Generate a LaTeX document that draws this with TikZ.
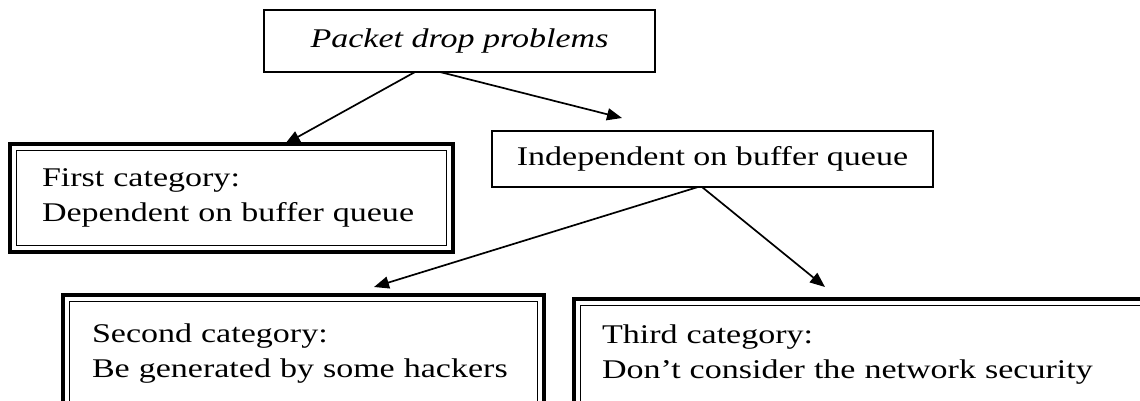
\documentclass[tikz,border=0pt]{standalone}
\usepackage{fontspec}
\setmainfont{Liberation Serif}[FakeStretch=1.26]
\usetikzlibrary{arrows.meta}
\tikzset{
    x=1pt, y=-1pt,
    every node/.style={font=\fontsize{27}{35}\selectfont, outer sep=0pt},
    plainbox/.style={draw, line width=1.7pt, anchor=north west},
    catbox/.style={draw, line width=3.2pt, anchor=north west, align=left},
    innerframe/.style={line width=1.7pt},
    link/.style={-{Triangle[length=15pt,width=12pt]}, line width=1.7pt},
}

\begin{document}
\begin{tikzpicture}
    \useasboundingbox (0,0) rectangle (1140,400);
    % root and middle boxes
    \node (problems) at (264,10) [plainbox, minimum width=391pt, minimum height=62pt,
        font=\fontsize{27}{35}\selectfont\itshape] {Packet drop problems};
    \node (indep) at (492,131) [plainbox, minimum width=441pt, minimum height=56pt]
        {Independent on buffer queue};
    % category boxes
    \node (first) at (10,144) [catbox, minimum height=108pt, inner xsep=32pt, text width=379pt]
        {First category:\\Dependent on buffer queue};
    \node (second) at (63,295) [catbox, inner xsep=29pt, inner ysep=28.4pt, text width=423pt]
        {Second category:\\Be generated by some hackers};
    \node (third) at (574,299) [catbox, inner xsep=28pt, inner ysep=25.4pt, text width=560pt]
        {Third category:\\Don't consider the network security};
    \draw[innerframe] ([shift={(6.5pt,-6.5pt)}]first.north west) rectangle ([shift={(-6.5pt,6.5pt)}]first.south east);
    \draw[innerframe] ([shift={(6.5pt,-6.5pt)}]second.north west) rectangle ([shift={(-6.5pt,6.5pt)}]second.south east);
    \draw[innerframe] ([shift={(6.5pt,-6.5pt)}]third.north west) rectangle ([shift={(-6.5pt,6.5pt)}]third.south east);
    % arrows
    \draw[link] ([xshift=-44.5pt]problems.south) -- ([xshift=53.5pt]first.north);
    \draw[link] ([xshift=-19.5pt]problems.south) -- ([xshift=-90.5pt,yshift=13pt]indep.north);
    \draw[link] ([xshift=-14.5pt]indep.south) -- ([xshift=311pt,yshift=8pt]second.north west);
    \draw[link] ([xshift=-10.5pt]indep.south) -- ([xshift=251pt,yshift=12pt]third.north west);
\end{tikzpicture}
\end{document}
